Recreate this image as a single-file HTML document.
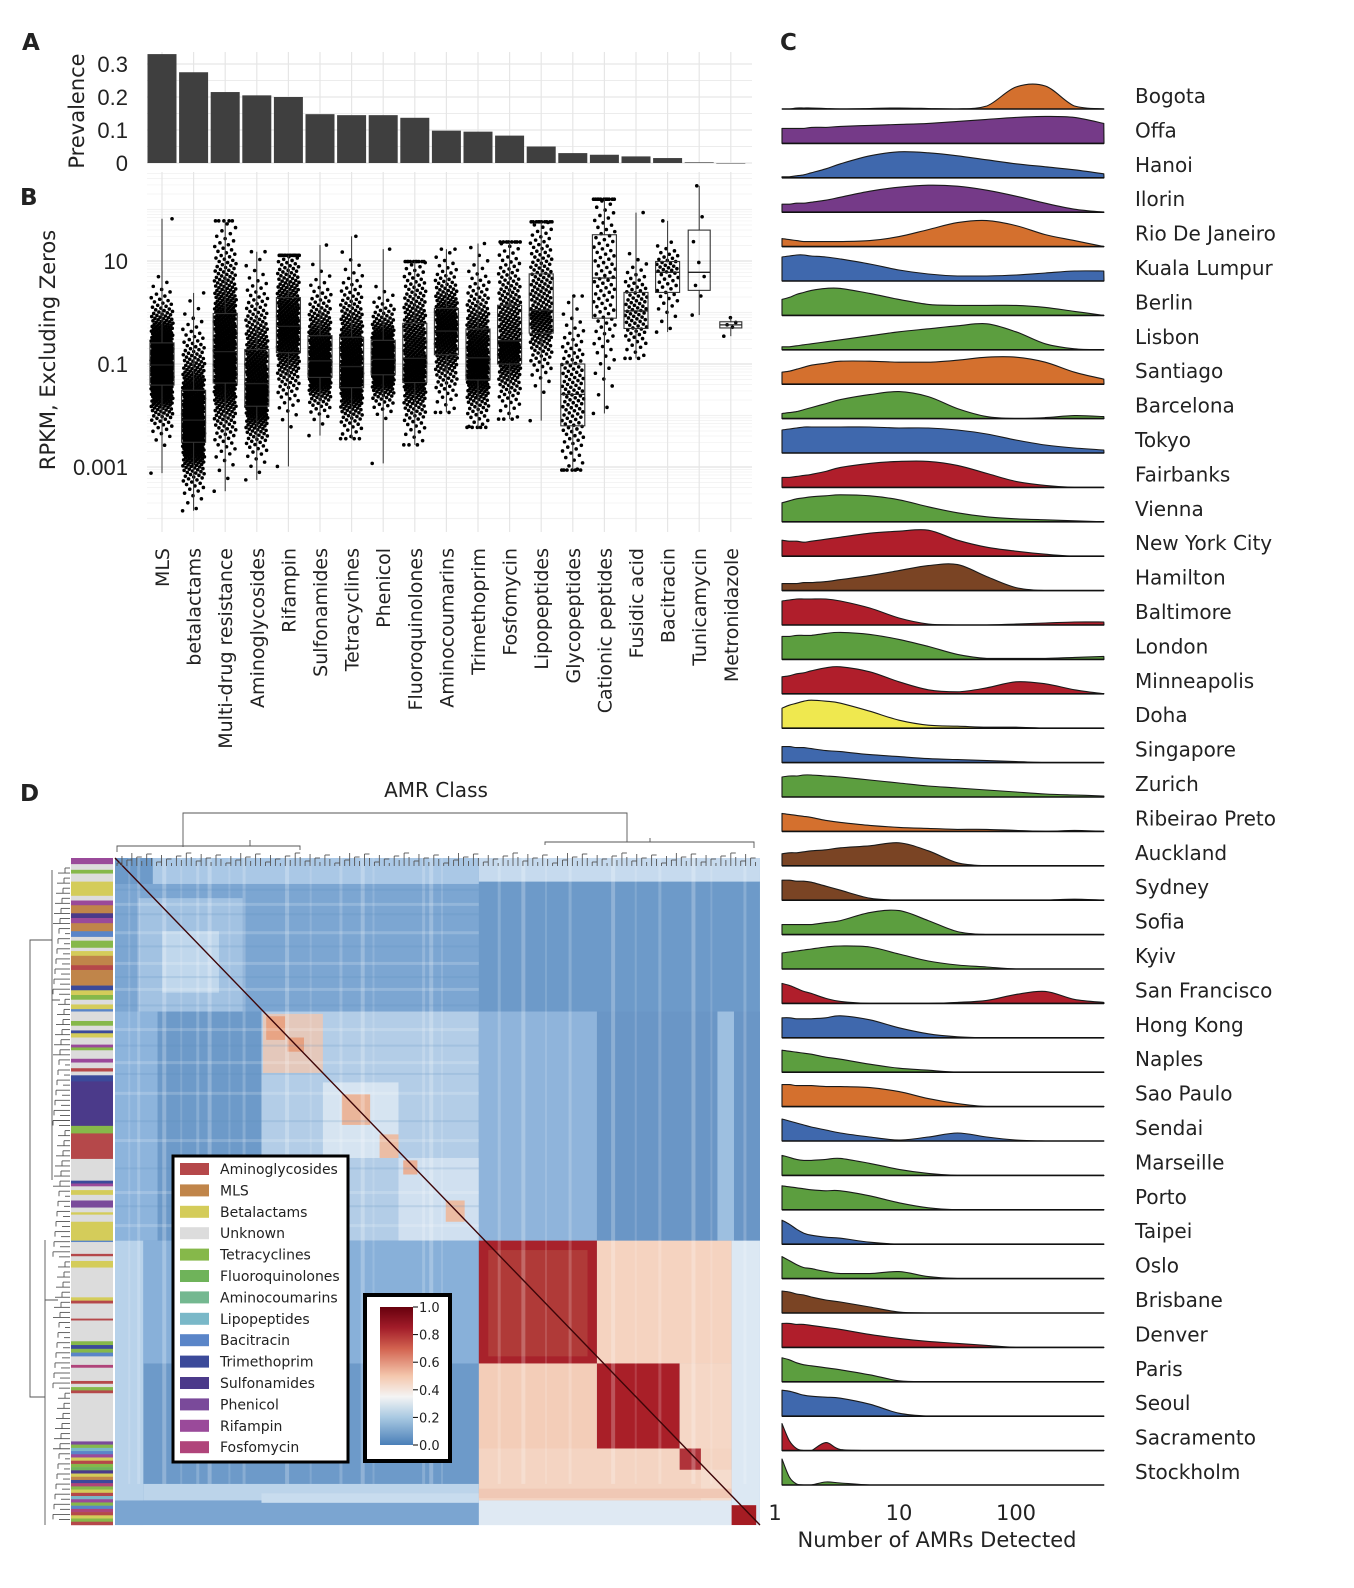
<!DOCTYPE html>
<html><head><meta charset="utf-8"><style>
html,body{margin:0;padding:0;background:#fff}
svg{display:block}
text{font-family:"DejaVu Sans","Liberation Sans",sans-serif;fill:#222}
.tk{font-family:"Liberation Sans Narrow","Liberation Sans",sans-serif;font-size:22px}
</style></head><body>
<svg id="fig" width="1354" height="1588" viewBox="0 0 1354 1588" xmlns="http://www.w3.org/2000/svg">
<g id="gA"></g>
<g id="gB"></g>
<g id="gC"></g>
<g id="gD"></g>
<text x="22" y="50" font-size="23" font-weight="bold">A</text>
<text x="20" y="205" font-size="23" font-weight="bold">B</text>
<text x="780" y="50" font-size="23" font-weight="bold">C</text>
<text x="20" y="801" font-size="23" font-weight="bold">D</text>
</svg>
<script>
// ---------- data ----------
const categories=["MLS","betalactams","Multi-drug resistance","Aminoglycosides","Rifampin","Sulfonamides","Tetracyclines","Phenicol","Fluoroquinolones","Aminocoumarins","Trimethoprim","Fosfomycin","Lipopeptides","Glycopeptides","Cationic peptides","Fusidic acid","Bacitracin","Tunicamycin","Metronidazole"];
const prevalence=[0.33,0.275,0.215,0.205,0.2,0.148,0.145,0.145,0.137,0.098,0.095,0.083,0.05,0.03,0.025,0.02,0.015,0.002,0];
const prevTicks=[0,0.1,0.2,0.3];
const prevTickLabels=["0","0.1","0.2","0.3"];
// log10 RPKM box stats
const boxQ1=[-1.41,-2.52,-1.37,-1.82,-0.78,-1.26,-1.46,-1.21,-1.36,-0.82,-1.31,-1.0,-0.40,-2.2,-0.11,-0.31,0.39,0.43,-0.30];
const boxMed=[-1.02,-2.09,-0.76,-1.38,-0.27,-0.94,-1.05,-0.91,-0.89,-0.36,-0.88,-0.55,0.04,-1.59,0.67,0.03,0.78,0.78,-0.24];
const boxQ3=[-0.59,-1.51,-0.02,-0.72,0.29,-0.45,-0.48,-0.54,-0.21,0.08,-0.32,0.14,0.75,-1.0,1.51,0.39,0.99,1.6,-0.18];
const boxLo=[-3.12,-3.85,-3.47,-3.25,-2.99,-2.39,-2.45,-2.93,-2.57,-1.94,-2.23,-2.07,-2.10,-3.06,-1.96,-0.89,-0.38,-0.05,-0.46];
const boxHi=[1.82,0.38,1.78,1.18,1.11,1.31,1.48,1.23,0.99,1.23,1.34,1.37,1.76,0.32,2.2,1.94,1.78,2.46,-0.1];
const pointCounts=[420,420,460,360,300,300,350,300,320,250,300,260,200,120,100,80,50,8,5];
const rpkmTicks=[1,-1,-3];
const rpkmTickLabels=["10","0.1","0.001"];

const cities=["Bogota","Offa","Hanoi","Ilorin","Rio De Janeiro","Kuala Lumpur","Berlin","Lisbon","Santiago","Barcelona","Tokyo","Fairbanks","Vienna","New York City","Hamilton","Baltimore","London","Minneapolis","Doha","Singapore","Zurich","Ribeirao Preto","Auckland","Sydney","Sofia","Kyiv","San Francisco","Hong Kong","Naples","Sao Paulo","Sendai","Marseille","Porto","Taipei","Oslo","Brisbane","Denver","Paris","Seoul","Sacramento","Stockholm"];
const cityColors=["#d4702e","#753a88","#3f68ad","#753a88","#d4702e","#3f68ad","#5c9e3f","#5c9e3f","#d4702e","#5c9e3f","#3f68ad","#b01e2b","#5c9e3f","#b01e2b","#7a4424","#b01e2b","#5c9e3f","#b01e2b","#efe84f","#3f68ad","#5c9e3f","#d4702e","#7a4424","#7a4424","#5c9e3f","#5c9e3f","#b01e2b","#3f68ad","#5c9e3f","#d4702e","#3f68ad","#5c9e3f","#5c9e3f","#3f68ad","#5c9e3f","#7a4424","#b01e2b","#5c9e3f","#3f68ad","#b01e2b","#5c9e3f"];
const densityGrid=[0,0.0625,0.125,0.1875,0.25,0.375,0.5,0.75,1,1.25,1.5,1.75,2,2.25,2.5,2.75];
const densities=[
[0,0,1,1,1,0.5,0,0.5,1,0.5,0,3,22,23,3,0],
[15,15,15,15,16,16,17,18,19,20,22,24,26,27,26,20],
[1,1,2,3,5,9,14,22,26,25,22,18,14,11,8,4],
[8,8,9,9,10,12,15,21,25,27,26,22,16,9,3,0],
[8,7,6,5,5,5,5,6,10,17,24,26,21,12,6,0],
[24,25,26,26,25,24,22,17,11,7,5,5,6,8,10,10],
[16,18,21,23,25,27,27,22,16,11,10,10,10,8,4,0],
[3,3,4,5,6,8,10,14,18,21,24,26,18,6,1,0],
[12,13,15,17,19,21,23,23,22,22,24,27,27,22,12,5],
[5,6,7,9,11,15,19,24,27,22,10,2,0,1,3,2],
[23,24,25,26,26,26,26,26,25,25,23,19,13,8,5,3],
[10,10,11,12,13,16,20,24,26,26,22,14,6,2,0,0],
[19,21,23,24,25,26,27,26,22,15,9,5,3,2,1,0],
[16,15,15,14,15,17,19,23,25,26,16,9,5,2,0,0],
[7,7,7,8,8,9,11,15,20,25,26,14,3,0,0,0],
[24,25,26,26,26,26,24,17,7,1,0,0,1,2,3,3],
[23,23,24,24,24,26,27,25,20,13,5,1,1,1,2,3],
[17,18,20,21,23,26,27,22,12,4,2,6,12,10,4,0],
[20,23,25,27,28,27,25,17,8,3,2,1,1,0,0,0],
[16,16,15,15,14,12,11,8,6,4,3,2,1,0,0,0],
[20,21,21,22,22,21,20,17,14,11,9,7,5,3,2,1],
[18,17,16,15,14,11,9,6,4,3,2,2,1,0,1,0],
[12,13,13,14,15,16,18,20,23,15,3,0,0,0,0,0],
[20,20,19,19,18,14,10,2,0,0,0,0,0,0,1,0],
[10,10,10,10,10,12,14,22,24,14,3,0,0,0,0,0],
[16,17,18,19,20,22,23,22,15,8,4,2,0,0,0,0],
[20,18,15,12,10,5,2,0,0,0,1,3,9,12,4,1],
[20,20,19,19,19,20,22,18,10,4,1,0,0,0,0,0],
[22,21,20,19,18,15,13,8,4,2,0,0,0,0,0,0],
[22,22,21,21,21,20,20,19,15,8,3,0,0,0,0,0],
[22,20,18,16,14,11,8,4,1,4,8,4,1,0,0,0],
[20,18,16,15,15,16,17,12,6,2,0,0,0,0,0,0],
[24,23,22,21,20,19,19,14,7,2,0,0,0,0,0,0],
[24,20,15,11,9,7,6,2,0,0,0,0,0,0,0,0],
[22,18,14,11,10,7,5,5,7,2,0,0,0,0,0,0],
[22,21,19,18,16,13,11,6,1,0,0,0,0,0,0,0],
[24,24,23,23,22,20,18,13,9,6,4,2,0,0,0,0],
[24,22,19,17,16,14,12,7,1,0,0,0,0,0,0,0],
[26,25,23,21,20,19,18,12,3,0,0,0,0,0,0,0],
[27,10,2,0,0,8,1,0,0,0,0,0,0,0,0,0],
[26,8,1,0,0,3,2,0,0,0,0,0,0,0,0,0]];
const countTicks=[0,1,2];
const countTickLabels=["1","10","100"];

const legendClasses=["Aminoglycosides","MLS","Betalactams","Unknown","Tetracyclines","Fluoroquinolones","Aminocoumarins","Lipopeptides","Bacitracin","Trimethoprim","Sulfonamides","Phenicol","Rifampin","Fosfomycin"];
const legendColors=["#b5484a","#c0854a","#d4cc5a","#dcdcdc","#86b84a","#6fb35a","#74b890","#7ab8c8","#5a85c8","#3b4a9a","#4b3a8a","#7a4a9a","#9a4a9a","#b0447a"];
const cbTicks=[1.0,0.8,0.6,0.4,0.2,0.0];
const cbTickLabels=["1.0","0.8","0.6","0.4","0.2","0.0"];

// ---------- helpers ----------
const NS="http://www.w3.org/2000/svg";
function mk(parent,tag,attrs,txt){const e=document.createElementNS(NS,tag);for(const k in attrs)e.setAttribute(k,attrs[k]);if(txt!==undefined)e.textContent=txt;parent.appendChild(e);return e;}

// ---------- Panel A ----------
const gA=document.getElementById('gA');
const xCat=i=>162+i*31.6;
const yPrev=v=>163-v*330;
for(let v=0;v<=0.3001;v+=0.05){const l=mk(gA,'line',{x1:147,x2:752,y1:yPrev(v),y2:yPrev(v),stroke:'#e6e6e6','stroke-width':(Math.round(v*100)%10===0)?1.3:0.7});}
categories.forEach((c,i)=>{const l=mk(gA,'line',{x1:xCat(i),x2:xCat(i),y1:52,y2:163,stroke:'#e6e6e6','stroke-width':1.2});});
prevalence.forEach((v,i)=>{const r=mk(gA,'rect',{x:xCat(i)-14.5,y:yPrev(v),width:29,height:Math.max(0.5,v*330),fill:'#3f3f3f'});});
prevTicks.forEach((v,i)=>{const t=mk(gA,'text',{x:128,y:yPrev(v)+8,'text-anchor':'end',class:'tk'},prevTickLabels[i]);});
{const t=mk(gA,'text',{transform:'translate(84,111) rotate(-90)','text-anchor':'middle','font-size':21},'Prevalence');}

// ---------- Panel B ----------
const gB=document.getElementById('gB');
const yLog=l=>364-(l+1)*51.5;
for(let d=-4;d<=3;d++){for(let m=1;m<10;m++){const l=d+Math.log10(m);const y=yLog(l);if(y<172||y>532)continue;const ln=mk(gB,'line',{x1:147,x2:752,y1:y,y2:y,stroke:(m===1&&(d%2!==0))?'#e2e2e2':'#f1f1f1','stroke-width':m===1?1.2:0.7});}}
categories.forEach((c,i)=>{const l=mk(gB,'line',{x1:xCat(i),x2:xCat(i),y1:172,y2:532,stroke:'#e6e6e6','stroke-width':1.2});});
function invNorm(p){const a=[-39.696830,220.946098,-275.928510,138.357751,-30.664798,2.506628],b=[-54.476098,161.585836,-155.698979,66.801311,-13.280681],c=[-0.007784894,-0.32239645,-2.400758,-2.549732,4.374664,2.938163],d=[0.007784695,0.32246712,2.445134,3.754408];let q,r;if(p<0.02425){q=Math.sqrt(-2*Math.log(p));return(((((c[0]*q+c[1])*q+c[2])*q+c[3])*q+c[4])*q+c[5])/((((d[0]*q+d[1])*q+d[2])*q+d[3])*q+1);}if(p>1-0.02425){q=Math.sqrt(-2*Math.log(1-p));return-(((((c[0]*q+c[1])*q+c[2])*q+c[3])*q+c[4])*q+c[5])/((((d[0]*q+d[1])*q+d[2])*q+d[3])*q+1);}q=p-0.5;r=q*q;return(((((a[0]*r+a[1])*r+a[2])*r+a[3])*r+a[4])*r+a[5])*q/(((((b[0]*r+b[1])*r+b[2])*r+b[3])*r+b[4])*r+1);}
categories.forEach((c,i)=>{
  const n=pointCounts[i],cx=xCat(i);
  const sLo=(boxMed[i]-boxQ1[i])/0.674,sHi=(boxQ3[i]-boxMed[i])/0.674;
  const g=mk(gB,'g',{});
  for(let k=0;k<n;k++){
    const p=(k+0.5)/n;let z=invNorm(p);
    let l=boxMed[i]+(z<0?z*sLo:z*sHi);
    if(k===0)l=boxLo[i];if(k===n-1)l=boxHi[i];
    l=Math.max(boxLo[i],Math.min(boxHi[i],l));
    const jit=(((k*0.6180339)%1)-0.5)*(n>20?22:14);
    mk(g,'circle',{cx:cx+jit,cy:yLog(l),r:1.8,fill:'#000'});
  }
  const bw=n>20?24:22;
  const bx=mk(gB,'g',{});
  mk(bx,'line',{x1:cx,x2:cx,y1:yLog(boxHi[i]),y2:yLog(boxQ3[i]),stroke:'#333','stroke-width':1});
  mk(bx,'line',{x1:cx,x2:cx,y1:yLog(boxQ1[i]),y2:yLog(boxLo[i]),stroke:'#333','stroke-width':1});
  mk(bx,'rect',{x:cx-bw/2,y:yLog(boxQ3[i]),width:bw,height:yLog(boxQ1[i])-yLog(boxQ3[i]),fill:'none',stroke:'#333','stroke-width':1.1});
  mk(bx,'line',{x1:cx-bw/2,x2:cx+bw/2,y1:yLog(boxMed[i]),y2:yLog(boxMed[i]),stroke:'#222','stroke-width':1.3});
  const t=mk(gB,'text',{transform:`translate(${cx+7},548) rotate(-90)`,'text-anchor':'end','font-size':19},c);
  
});
rpkmTicks.forEach((v,i)=>{const t=mk(gB,'text',{x:128,y:yLog(v)+8,'text-anchor':'end',class:'tk'},rpkmTickLabels[i]);});
{const t=mk(gB,'text',{transform:'translate(55,350) rotate(-90)','text-anchor':'middle','font-size':21},'RPKM, Excluding Zeros');}

// ---------- Panel C ----------
const gC=document.getElementById('gC');
const xCnt=l=>782+l*117;
const base=i=>109+i*34.4;
function smoothPath(pts){let d=`M${pts[0][0]},${pts[0][1]}`;for(let i=0;i<pts.length-1;i++){const p0=pts[Math.max(0,i-1)],p1=pts[i],p2=pts[i+1],p3=pts[Math.min(pts.length-1,i+2)];const c1=[p1[0]+(p2[0]-p0[0])/6,p1[1]+(p2[1]-p0[1])/6],c2=[p2[0]-(p3[0]-p1[0])/6,p2[1]-(p3[1]-p1[1])/6];const b=Math.max(p1[1],p2[1]);c1[1]=Math.min(c1[1],b);c2[1]=Math.min(c2[1],b);d+=`C${c1[0].toFixed(1)},${c1[1].toFixed(1)} ${c2[0].toFixed(1)},${c2[1].toFixed(1)} ${p2[0].toFixed(1)},${p2[1].toFixed(1)}`;}return d;}
cities.forEach((c,i)=>{
  const b=base(i);
  const pts=densityGrid.map((g,k)=>[xCnt(g),b-densities[i][k]]);
  const d=`M782,${b} L${pts[0][0]},${pts[0][1]} `+smoothPath(pts).replace(/^M[^C]*/,'')+` L1104,${b} Z`;
  const p=mk(gC,'path',{d:d,fill:cityColors[i],stroke:'#1a1a1a','stroke-width':1.1,'stroke-linejoin':'round'});
  
  
  const bl=mk(gC,'line',{x1:782,x2:1104,y1:b,y2:b,stroke:'#111','stroke-width':1.6});
  
  const t=mk(gC,'text',{x:1135,y:96+i*34.4+7,'font-size':20},c);
  
});
countTicks.forEach((v,i)=>{const t=mk(gC,'text',{x:xCnt(v)-(i===0?7:0),y:1520,'text-anchor':'middle','font-size':21},countTickLabels[i]);});
{const t=mk(gC,'text',{x:937,y:1547,'text-anchor':'middle','font-size':21},'Number of AMRs Detected');}

// ---------- Panel D ----------
const gD=document.getElementById('gD');
const hx=z=>115+(z-200)*0.4725, hy=z=>858+(z-145)*0.4724;
{const t=mk(gD,'text',{x:436,y:797,'text-anchor':'middle','font-size':20},'AMR Class');}
const hm=mk(gD,'g',{});
const blocks=[
[200,1565,145,1557,'#6d9ac9'],
[280,970,145,200,'#aac8e6'],[970,1565,145,195,'#c6daee'],
[200,970,200,470,'#7ca6d2'],[250,470,230,470,'#a2c2e2'],[300,420,300,430,'#c0d7ec'],
[200,290,470,955,'#8db4dc'],[510,970,470,955,'#b3cde7'],[640,800,620,780,'#d6e4f1'],[800,970,780,955,'#d0e0f0'],
[513,640,475,600,'#e4c8bb'],[520,560,480,530,'#e8a484'],[565,600,525,555,'#e6a080'],[680,740,645,710,'#eab59a'],[760,800,730,780,'#ebbda5'],[810,840,785,815,'#e9b096'],[900,940,870,915,'#ebbca3'],
[970,1220,470,955,'#8fb4db'],[1220,1565,470,955,'#6a96c6'],[1475,1510,470,955,'#9dbfe0'],
[200,260,955,1557,'#b8d2ea'],[260,970,955,1215,'#88b0d9'],
[970,1220,955,1215,'#a8222b'],[990,1200,975,1200,'#b03a38'],[1220,1505,955,1215,'#f5d3c0'],[1505,1565,955,1557,'#dce8f3'],
[970,1220,1215,1395,'#f3cdb8'],[1220,1395,1215,1395,'#a91f28'],[1395,1505,1215,1395,'#f5d7c6'],
[970,1505,1395,1505,'#f4d4c2'],[1395,1440,1395,1440,'#b0333a'],[1440,1505,1440,1505,'#f5dccd'],
[260,970,1470,1505,'#bcd4ea'],[200,970,1505,1557,'#7ba5d1'],[970,1505,1505,1557,'#dfe9f3'],[1505,1557,1515,1557,'#a51c23'],[510,970,1490,1510,'#c8dcee'],[970,1505,1480,1500,'#f0c8b5']
];
blocks.forEach(b=>mk(hm,'rect',{x:hx(b[0]),y:hy(b[2]),width:hx(b[1])-hx(b[0]),height:hy(b[3])-hy(b[2]),fill:b[4]}));
const stripeCols=[228,247,300,338,372,396,440,470,560,612,675,720,745,850,865,890,1010,1060,1110,1160,1250,1300,1350,1420,1460,1530];
stripeCols.forEach((z,k)=>{mk(hm,'rect',{x:hx(z),y:hy(145),width:2+(k%3),height:hy(1470)-hy(145),fill:'#ffffff',opacity:0.14+0.05*(k%3)});});
const stripeRows=[210,240,262,300,330,365,395,420,455,505,540,575,600,640,700,740,800,850,880,920];
stripeRows.forEach((z,k)=>{mk(hm,'rect',{x:hx(200),y:hy(z),width:hx(970)-hx(200),height:2+(k%2),fill:(k%2)?'#ffffff':'#5b88ba',opacity:0.18});});
mk(hm,'line',{x1:hx(200),y1:hy(145),x2:hx(1565),y2:hy(1557),stroke:'#3d0508','stroke-width':1.4});
// top dendrogram
const dt=mk(gD,'g',{stroke:'#555','stroke-width':0.9,fill:'none'});
mk(dt,'path',{d:`M183,847 V813 H627 V842`});
mk(dt,'path',{d:`M117,852 V846 H300 V850 M250,846 V840 M545,845 V842 H754 V848 M650,842 V838`});
for(let k=0;k<130;k++){const x=117+k*4.95;const h=3+((k*7)%11);mk(dt,'line',{x1:x,x2:x,y1:866,y2:866-h});if(k%2===0)mk(dt,'line',{x1:x,x2:x+5,y1:866-h,y2:866-h});}
// left dendrogram
const dl=mk(gD,'g',{stroke:'#555','stroke-width':0.9,fill:'none'});
mk(dl,'path',{d:`M52,940 H30 V1397 H45`});mk(dl,'path',{d:`M52,870 V1180 M45,1240 V1525 M52,1000 H60 M45,1300 H58`});
for(let k=0;k<130;k++){const y=868+k*5.05;const w=5+((k*7)%13);mk(dl,'line',{x1:70,x2:70-w,y1:y,y2:y});if(k%2===0)mk(dl,'line',{x1:70-w,x2:70-w,y1:y,y2:y+5});}
// class color strip
const stripSegs=[[145,158,12],[158,170,3],[170,178,4],[178,195,3],[195,225,2],[225,235,3],[235,245,12],[245,262,1],[262,272,10],[272,283,12],[283,300,1],[300,312,8],[312,320,3],[320,335,4],[335,342,3],[342,352,2],[352,372,1],[372,382,0],[382,415,1],[415,425,9],[425,435,2],[435,445,4],[445,455,3],[455,465,2],[465,470,8],[470,490,3],[490,500,4],[500,510,3],[510,516,9],[516,525,2],[525,540,3],[540,546,12],[546,552,4],[552,570,3],[570,578,12],[578,590,3],[590,597,0],[597,605,3],[605,618,9],[618,712,10],[712,728,4],[728,782,0],[782,828,3],[828,834,9],[834,840,12],[840,848,3],[848,858,2],[858,870,3],[870,885,11],[885,895,3],[895,900,2],[900,915,3],[915,955,2],[955,958,8],[958,983,3],[983,988,0],[988,998,3],[998,1012,2],[1012,1075,3],[1075,1082,2],[1082,1088,0],[1088,1120,3],[1120,1124,0],[1124,1168,3],[1168,1176,4],[1176,1184,9],[1184,1192,4],[1192,1200,8],[1200,1218,3],[1218,1224,13],[1224,1252,3],[1252,1258,0],[1258,1265,3],[1265,1272,4],[1272,1278,0],[1278,1380,3]];
const tailCls=[11,4,7,8,12,2,0,4,5,10,2,1,9,13,4,2,0,7,12,4,8,13,0,2,4,0];
const cs=mk(gD,'g',{});
stripSegs.forEach(s=>mk(cs,'rect',{x:71,y:hy(s[0]),width:42,height:hy(s[1])-hy(s[0])+0.3,fill:legendColors[s[2]]}));
tailCls.forEach((c,k)=>mk(cs,'rect',{x:71,y:hy(1380+k*6.8),width:42,height:3.5,fill:legendColors[c]}));
// legend
const lg=mk(gD,'g',{});
mk(lg,'rect',{x:173,y:1156,width:175,height:306,fill:'#fff',stroke:'#000','stroke-width':3});
legendClasses.forEach((c,i)=>{const y=1169+i*21.4;const s=mk(lg,'rect',{x:180,y:y-6,width:29,height:12,fill:legendColors[i]});const t=mk(lg,'text',{x:220,y:y+5,'font-size':14},c);});
// colorbar
const cb=mk(gD,'g',{});
const defs=mk(document.getElementById('fig'),'defs',{});
const gr=mk(defs,'linearGradient',{id:'cbg',x1:0,y1:1,x2:0,y2:0});
[['0','#4a7fb8'],['0.2','#a9c9e2'],['0.35','#f4f4f4'],['0.5','#f4c7ad'],['0.7','#d2624f'],['0.85','#a21c29'],['1','#67000d']].forEach(s=>mk(gr,'stop',{offset:s[0],'stop-color':s[1]}));
mk(cb,'rect',{x:365,y:1295,width:85,height:166,fill:'#fff',stroke:'#000','stroke-width':4});
const cbY=v=>1445-v*138;
mk(cb,'rect',{x:380,y:cbY(1),width:33,height:138,fill:'url(#cbg)'});
cbTicks.forEach((v,i)=>{mk(cb,'line',{x1:413,x2:418,y1:cbY(v),y2:cbY(v),stroke:'#000'});const t=mk(cb,'text',{x:419,y:cbY(v)+5,'font-size':13},cbTickLabels[i]);});
</script>
</body></html>
